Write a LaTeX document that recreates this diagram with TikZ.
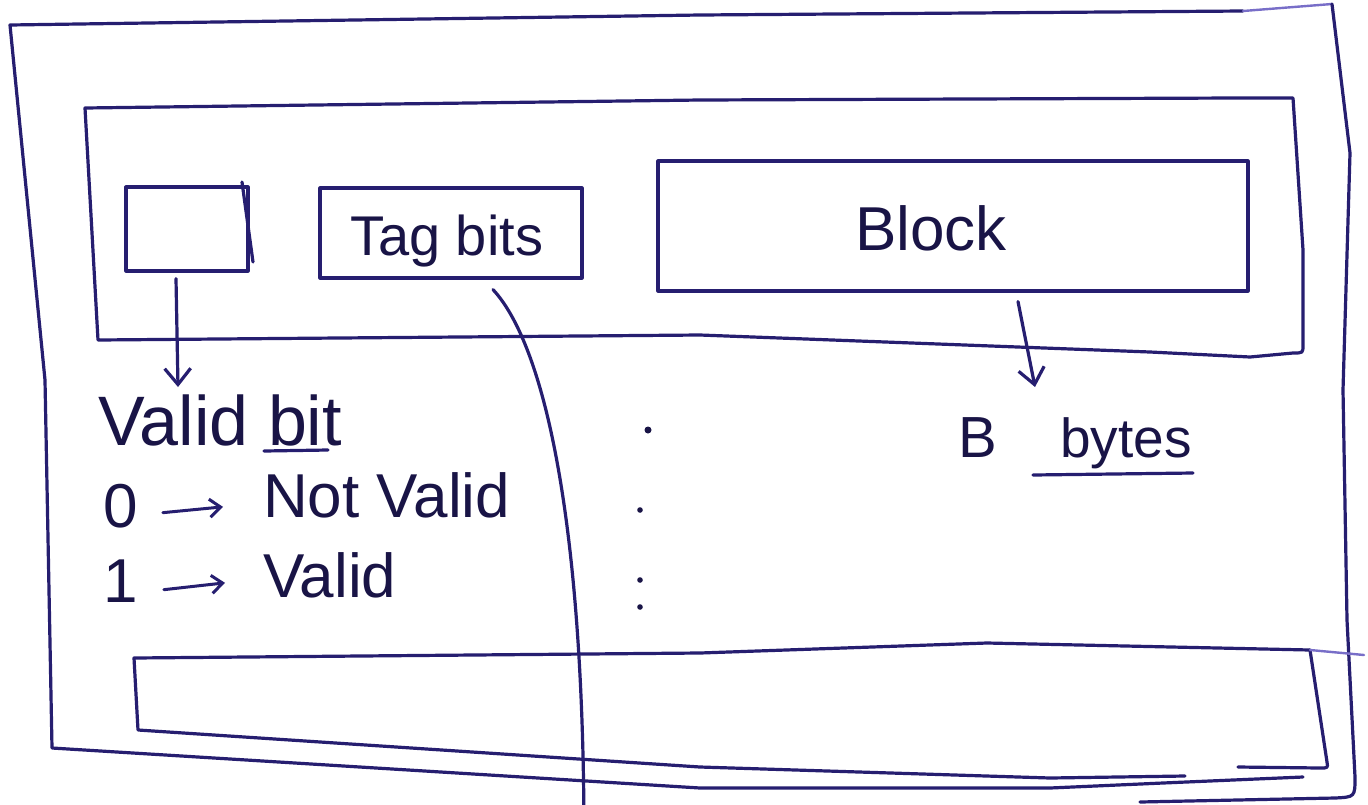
\documentclass[tikz,border=0pt]{standalone}
\usepackage{fontspec}
\setmainfont{Liberation Sans}
\usetikzlibrary{arrows.meta}
\definecolor{ink}{RGB}{38,30,112}
\definecolor{inklight}{RGB}{120,110,200}
\definecolor{inkdark}{RGB}{25,20,70}
\begin{document}
\begin{tikzpicture}[x=1pt,y=-1pt,line join=round,line cap=round,
  frame/.style={draw=ink,line width=3.2pt},
  faint/.style={draw=inklight,line width=2.4pt},
  field/.style={draw=ink,line width=3.2pt,rectangle,inner sep=0pt},
  hand/.style={text=inkdark,inner sep=0pt,anchor=base west},
  arr/.style={draw=ink,line width=3.2pt,-{Straight Barb[length=16pt,width=26pt,line width=3.2pt]}},
  sarr/.style={draw=ink,line width=3pt,-{Straight Barb[length=11pt,width=18pt,line width=3pt]}},
  dotmark/.style={fill=inkdark}]
\useasboundingbox (0,0) rectangle (1368,804);
\fill[white] (0,0) rectangle (1368,804);

% outer frame
\draw[frame] (1243,11) -- (700,15) -- (10,25) -- (45,380) -- (52,748) -- (700,788) -- (1050,788) -- (1163,783) -- (1303,777);
\draw[faint] (1243,11) -- (1332,4);
\draw[frame] (1332,4) -- (1350,153) -- (1343,390) -- (1347,620) -- (1355,777) .. controls (1355,797) .. (1335,798) -- (1140,802);

% first row frame
\draw[frame] (85,108) -- (700,100) -- (1237,98) -- (1293,98) -- (1303,250) -- (1303,345) .. controls (1303,353) .. (1293,353) -- (1250,357) -- (1150,352) -- (700,335) -- (98,340) -- cycle;

% last row frame
\draw[frame] (1310,650) -- (987,643) -- (700,653) -- (134,658) -- (138,730) -- (700,767) -- (1050,778) -- (1185,776);
\draw[frame] (1310,650) -- (1327,762) .. controls (1328,768) .. (1320,768) -- (1238,767);
\draw[faint] (1310,650) -- (1364,655);

% fields
\node[field,minimum width=122pt,minimum height=84pt] (valid) at (187,229) {};
\draw[frame] (242,182) -- (253,262);
\node[field,minimum width=262pt,minimum height=90pt] (tag) at (451,233) {};
\node[hand,font=\fontsize{56}{60}\selectfont] (tagtxt) at (350,255) {Tag bits};
\node[field,minimum width=590pt,minimum height=130pt] (block) at (953,226) {};
\node[hand,font=\fontsize{62}{66}\selectfont] (blocktxt) at (855,250) {Block};

% valid bit legend
\coordinate (vtip) at (178,387);
\draw[arr] ([shift={(-11,6)}]valid.south) -- (vtip);
\node[hand,font=\fontsize{70}{74}\selectfont] (vbit) at (98,445) {Valid bit};
\draw[frame] (264,451) -- (328,450);
\node[hand,font=\fontsize{62}{66}\selectfont] (zero) at (103,527) {0};
\node[hand,font=\fontsize{62}{66}\selectfont] (notvalid) at (263,517) {Not Valid};
\draw[sarr] ([shift={(25,7)}]zero.east) -- ([shift={(-40,12)}]notvalid.west);
\node[hand,font=\fontsize{62}{66}\selectfont] (one) at (103,602) {1};
\node[hand,font=\fontsize{62}{66}\selectfont] (validtxt) at (263,597) {Valid};
\draw[sarr] ([shift={(26,9)}]one.east) -- ([shift={(-38,8)}]validtxt.west);

% tag connector leaving the page
\coordinate (tagend) at (584,830);
\draw[frame] ([shift={(42,10)}]tag.south) .. controls (540,340) and (583,500) .. (tagend);

% block size
\coordinate (btip) at (1035,387);
\draw[arr] ([shift={(65,9)}]block.south) -- (btip);
\node[hand,font=\fontsize{58}{62}\selectfont] (bsym) at (958,457) {B};
\node[hand,font=\fontsize{55}{60}\selectfont] (bytes) at (1060,457) {bytes};
\draw[frame] (1033,475) -- (1193,473);

% vertical ellipsis of further rows
\fill[dotmark] (648,430) circle (3.5pt);
\fill[dotmark] (640,510) circle (2.8pt);
\fill[dotmark] (640,580) circle (2.8pt);
\fill[dotmark] (640,607) circle (2.8pt);
\end{tikzpicture}
\end{document}
